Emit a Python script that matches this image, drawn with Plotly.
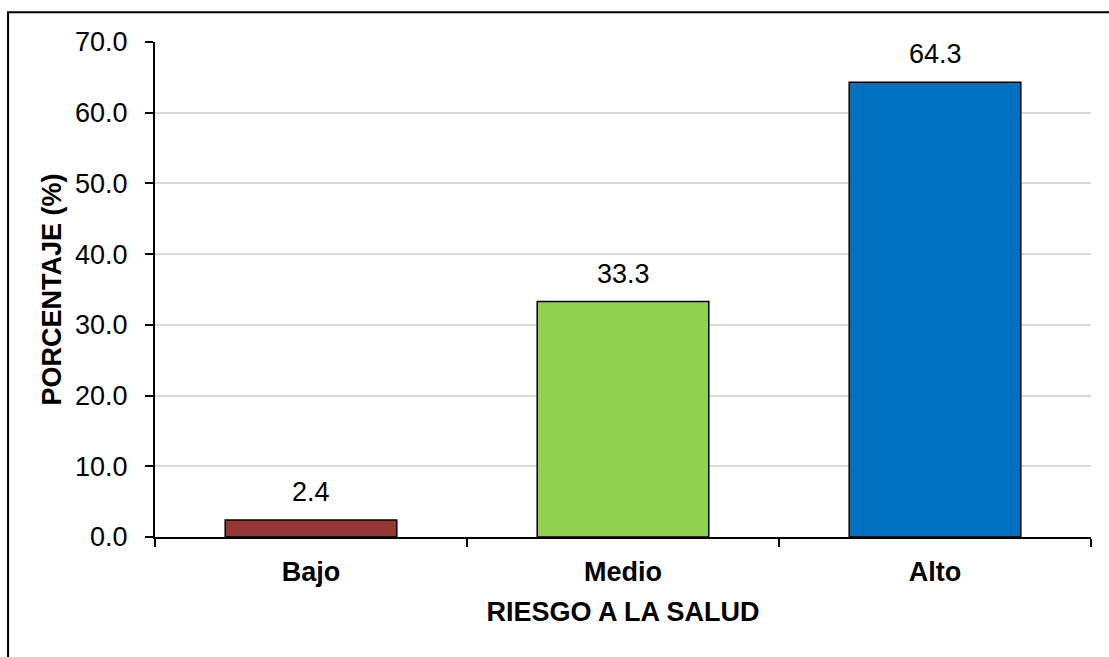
import plotly.graph_objects as go

categorias = ["Bajo", "Medio", "Alto"]
porcentajes = [2.4, 33.3, 64.3]
colores = ["#953735", "#92D050", "#0070C0"]
y_ticks = [0, 10, 20, 30, 40, 50, 60, 70]
y_tick_labels = [f"{v:.1f}" for v in y_ticks]

FONT = "Liberation Sans Narrow, Arial Narrow, Liberation Sans, Arial, sans-serif"
SIZE = 27

fig = go.Figure()
fig.add_trace(go.Bar(
    x=categorias,
    y=porcentajes,
    marker=dict(color=colores, line=dict(color="black", width=1.5)),
    width=0.55,
    hoverinfo="skip",
))

# value labels above each bar
for c, v in zip(categorias, porcentajes):
    fig.add_annotation(
        x=c, y=v, text=f"{v:.1f}", showarrow=False,
        yanchor="bottom", yshift=11,
        font=dict(family=FONT, size=SIZE, color="black"),
    )

# outer chart frame
fig.add_shape(
    type="rect", xref="paper", yref="paper",
    x0=-0.157, x1=1.03, y0=-0.27, y1=1.06,
    line=dict(color="black", width=2), fillcolor="rgba(0,0,0,0)",
    layer="below",
)

fig.update_layout(
    width=1109, height=657,
    margin=dict(l=155, r=18, t=42, b=120),
    paper_bgcolor="white", plot_bgcolor="white",
    showlegend=False,
    font=dict(family=FONT, color="black"),
    xaxis=dict(
        title=dict(text="<b>RIESGO A LA SALUD</b>", font=dict(family=FONT, size=SIZE), standoff=16),
        tickfont=dict(family=FONT, size=SIZE),
        tickvals=categorias,
        ticktext=[f"<b>{c}</b>" for c in categorias],
        ticks="outside", tickson="boundaries", ticklen=8, tickwidth=2, tickcolor="black",
        ticklabelstandoff=10,
        showline=True, linecolor="black", linewidth=2,
        showgrid=False, fixedrange=True,
    ),
    yaxis=dict(
        title=dict(text="<b>PORCENTAJE (%)</b>", font=dict(family=FONT, size=SIZE), standoff=6),
        tickfont=dict(family=FONT, size=SIZE),
        range=[0, 70],
        tickvals=y_ticks, ticktext=y_tick_labels,
        ticks="outside", ticklen=8, tickwidth=2, tickcolor="black",
        ticklabelstandoff=12,
        showline=True, linecolor="black", linewidth=2,
        showgrid=True, gridcolor="#d9d9d9", gridwidth=1.5,
        zeroline=False, fixedrange=True,
    ),
)

fig.write_html("out.html")
